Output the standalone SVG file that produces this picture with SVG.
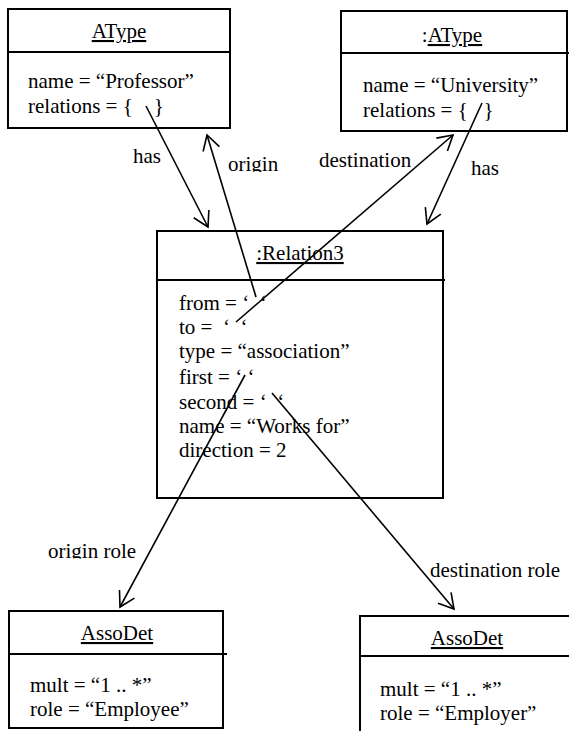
<svg xmlns="http://www.w3.org/2000/svg" width="569" height="731" viewBox="0 0 569 731" font-family="'Liberation Serif', 'DejaVu Serif', serif" font-size="21">
  <style>
    .box { fill: #fff; stroke: #000; stroke-width: 2; }
    .div { stroke: #000; stroke-width: 2; }
    text { font-family: 'Liberation Serif', 'DejaVu Serif', serif; font-size: 21px; fill: #000; white-space: pre; }
    .title { text-anchor: middle; }
    .u { text-decoration: underline; }
    .link { fill: none; stroke: #000; stroke-width: 1.6; marker-end: url(#open); }
  </style>
  <defs>
    <marker id="open" viewBox="-18 -10 20 20" refX="0" refY="0" markerWidth="20" markerHeight="20" markerUnits="userSpaceOnUse" orient="auto">
      <path d="M-14.7,-8.5 L0,0 L-14.7,8.5" fill="none" stroke="#000" stroke-width="1.6"/>
    </marker>
    <clipPath id="clipOrigin"><rect x="220" y="140" width="70" height="32"/></clipPath>
    <clipPath id="clipDest"><rect x="310" y="140" width="110" height="27.5"/></clipPath>
    <clipPath id="clipOriginRole"><rect x="40" y="530" width="110" height="28.5"/></clipPath>
    <clipPath id="clipDestRole"><rect x="420" y="550" width="149" height="27.5"/></clipPath>
  </defs>

  <rect width="569" height="731" fill="#fff"/>

  <!-- object: AType (Professor) -->
  <g id="atype-professor">
    <rect class="box" x="8" y="9" width="222" height="119"/>
    <line class="div" x1="8" y1="52" x2="230" y2="52"/>
    <text class="title u" x="119" y="38">AType</text>
    <text x="28" y="88">name = “Professor”</text>
    <text x="28" y="113">relations = {&#160;&#160;&#160;&#160;}</text>
  </g>

  <!-- object: :AType (University) -->
  <g id="atype-university">
    <rect class="box" x="341" y="11" width="226" height="120"/>
    <line class="div" x1="341" y1="53" x2="569" y2="53"/>
    <text class="title" x="452" y="42">:<tspan class="u">AType</tspan></text>
    <text x="363" y="92">name = “University”</text>
    <text x="363" y="117">relations = {&#160;&#160;&#160;}</text>
  </g>

  <!-- object: :Relation3 -->
  <g id="relation3">
    <rect class="box" x="157" y="231" width="286" height="267"/>
    <line class="div" x1="157" y1="280" x2="445" y2="280"/>
    <text class="title u" x="300" y="260">:Relation3</text>
    <text x="179" y="310">from = ‘&#160;&#160;‘</text>
    <text x="179" y="334">to =&#160;&#160;‘&#160;&#160;‘</text>
    <text x="179" y="358">type = “association”</text>
    <text x="179" y="384">first = ‘ ‘</text>
    <text x="179" y="409">second = ‘&#160;&#160;‘</text>
    <text x="179" y="433">name = “Works for”</text>
    <text x="179" y="457">direction = 2</text>
  </g>

  <!-- object: AssoDet (Employee) -->
  <g id="assodet-employee">
    <rect class="box" x="9" y="611" width="214" height="117"/>
    <line class="div" x1="9" y1="654" x2="227" y2="654"/>
    <text class="title u" x="117" y="640">AssoDet</text>
    <text x="30" y="692">mult = “1 .. *”</text>
    <text x="30" y="716">role = “Employee”</text>
  </g>

  <!-- object: AssoDet (Employer) -->
  <g id="assodet-employer">
    <rect class="box" x="360" y="616" width="220" height="130"/>
    <line class="div" x1="360" y1="656" x2="569" y2="656"/>
    <text class="title u" x="467" y="645">AssoDet</text>
    <text x="380" y="696">mult = “1 .. *”</text>
    <text x="380" y="720">role = “Employer”</text>
  </g>

  <!-- links -->
  <g id="connectors">
    <line class="link" x1="146" y1="106" x2="208" y2="227"/>
    <line class="link" x1="256" y1="297" x2="207" y2="135"/>
    <line class="link" x1="236" y1="322" x2="453" y2="135"/>
    <line class="link" x1="482" y1="103" x2="427" y2="224"/>
    <line class="link" x1="245" y1="375" x2="120" y2="607"/>
    <line class="link" x1="272" y1="393" x2="454" y2="609"/>

    <text x="133" y="163">has</text>
    <text x="228" y="171" clip-path="url(#clipOrigin)">origin</text>
    <text x="319" y="167" clip-path="url(#clipDest)">destination</text>
    <text x="471" y="175">has</text>
    <text x="48" y="558" clip-path="url(#clipOriginRole)">origin role</text>
    <text x="430" y="577" clip-path="url(#clipDestRole)">destination role</text>
  </g>
</svg>
